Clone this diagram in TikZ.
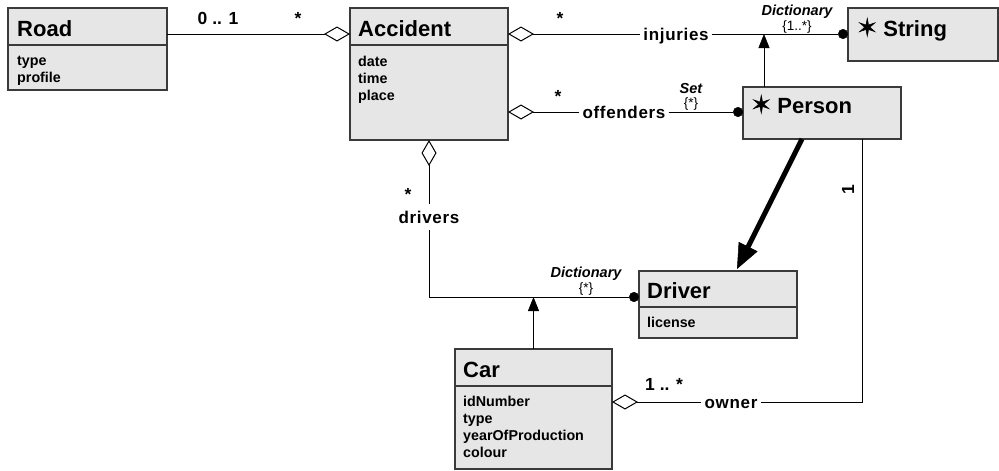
\documentclass[tikz,border=0pt]{standalone}
\usepackage{fontspec}
\setmainfont{Liberation Sans}
\newfontfamily\starfont[FakeBold=2]{DejaVu Sans}
\usetikzlibrary{arrows.meta,calc}
\definecolor{boxfill}{HTML}{E6E6E6}
\definecolor{boxline}{HTML}{3A3A3A}
\newcommand{\classstar}{{\starfont\mdseries\fontsize{24}{26}\selectfont\symbol{"2736}}}

\tikzset{
  aggtip/.tip={Diamond[open,length=26pt,width=15pt,line width=1pt]},
  dottip/.tip={Circle[length=10pt,line width=0.5pt]},
  gentip/.tip={Triangle[length=14pt,width=11pt,line width=0.5pt]},
  navtip/.tip={Triangle[length=25pt,width=21pt,line width=0.5pt]},
}

\begin{document}
\begin{tikzpicture}[x=1pt,y=-1pt,
  classbox/.style={draw=boxline, fill=boxfill, line width=1.2pt, anchor=north west,
    inner sep=0pt, outer sep=0pt},
  divider/.style={draw=boxline, line width=1.2pt},
  classname/.style={font=\bfseries\fontsize{22}{26}\selectfont, anchor=base west, inner sep=0pt},
  attrlist/.style={font=\bfseries\fontsize{14.3}{17}\selectfont, anchor=north west,
    align=left, inner sep=0pt},
  role/.style={font=\bfseries\fontsize{17}{20}\selectfont\addfontfeature{LetterSpace=4},
    text height=12pt, text depth=0pt, inner xsep=3pt, inner ysep=0pt},
  mult/.style={font=\bfseries\fontsize{17.5}{20}\selectfont, inner sep=0pt, anchor=base},
  kind/.style={font=\bfseries\itshape\fontsize{14.5}{17}\selectfont, inner sep=0pt, anchor=base},
  constraint/.style={font=\fontsize{13.5}{15}\selectfont, inner sep=0pt},
  link/.style={draw=black, line width=1pt},
  navlink/.style={draw=black, line width=5pt},
]
\useasboundingbox (0,0) rectangle (999,471);

% ---------- classes ----------
\node[classbox, minimum width=159pt, minimum height=82pt] (road) at (8,8) {};
\draw[divider] ($(road.north west)+(0,37)$) -- ($(road.north east)+(0,37)$);
\node[classname] (roadName) at (17,36) {Road};
\node[attrlist] (roadAttr) at (17,56) {type\\profile};

\node[classbox, minimum width=158pt, minimum height=132pt] (acc) at (350,8) {};
\draw[divider] ($(acc.north west)+(0,37)$) -- ($(acc.north east)+(0,37)$);
\node[classname] (accName) at (358,36) {Accident};
\node[attrlist] (accAttr) at (358,56) {date\\time\\place};

\node[classbox, minimum width=150pt, minimum height=53pt] (str) at (848,8) {};
\node[classname] (strName) at (857,36) {\classstar\ String};

\node[classbox, minimum width=158pt, minimum height=52pt] (person) at (743,87) {};
\node[classname] (personName) at (751,113) {\classstar\ Person};

\node[classbox, minimum width=158pt, minimum height=67pt] (driver) at (639,271) {};
\draw[divider] ($(driver.north west)+(0,36)$) -- ($(driver.north east)+(0,36)$);
\node[classname] (driverName) at (647,298) {Driver};
\node[attrlist] (driverAttr) at (647,317) {license};

\node[classbox, minimum width=157pt, minimum height=120pt] (car) at (455,349) {};
\draw[divider] ($(car.north west)+(0,37)$) -- ($(car.north east)+(0,37)$);
\node[classname] (carName) at (463,377) {Car};
\node[attrlist] (carAttr) at (463,396) {idNumber\\type\\yearOfProduction\\colour};

% ---------- connection points ----------
\coordinate (roadE)   at ($(road.north east)+(0,26)$);
\coordinate (accW)    at ($(acc.north west)+(0,26)$);
\coordinate (accInj)  at ($(acc.north east)+(0,26)$);
\coordinate (accOff)  at ($(acc.north east)+(0,104)$);
\coordinate (accDrv)  at ($(acc.south west)+(79,0)$);
\coordinate (strW)    at ($(str.north west)+(0,26)$);
\coordinate (personW) at ($(person.north west)+(0,25)$);
\coordinate (personT) at ($(person.north west)+(21,0)$);
\coordinate (personB) at ($(person.south west)+(59,0)$);
\coordinate (personO) at ($(person.south west)+(119,0)$);
\coordinate (driverW) at ($(driver.north west)+(0,26)$);
\coordinate (driverT) at ($(driver.north east)+(-60,-2)$);
\coordinate (carE)    at ($(car.north east)+(0,53)$);

% ---------- role names ----------
\node[role] (inj)  at (676,34)  {injuries};
\node[role] (off)  at (624,112) {offenders};
\node[role, inner ysep=7pt] (drv) at (429,217) {drivers};
\node[role] (own)  at (731,402) {owner};

% ---------- associations ----------
\draw[link, -aggtip] (roadE) -- (accW);
\node[mult] (m01) at (218,24) {0 .. 1};
\node[mult] (mRoad) at (298,24) {*};

\draw[link, aggtip-] (accInj) -- (inj.west);
\draw[link, -dottip] (inj.east) -- (strW);
\node[mult] (mInj) at (560,24) {*};
\node[kind] (kInj) at (797,15) {Dictionary};
\node[constraint] (cInj) at (797,27) {\{1..*\}};
\coordinate (injJoin) at (personT |- inj.east);
\draw[link, -gentip] (personT) -- (injJoin);

\draw[link, aggtip-] (accOff) -- (off.west);
\draw[link, -dottip] (off.east) -- (personW);
\node[mult] (mOff) at (558,102) {*};
\node[kind] (kOff) at (691,93) {Set};
\node[constraint] (cOff) at (691,104) {\{*\}};

\draw[link, aggtip-] (accDrv) -- (drv.north);
\draw[link, -dottip] (drv.south) |- (driverW);
\node[mult] (mDrv) at (408,200) {*};
\node[kind] (kDrv) at (586,277) {Dictionary};
\node[constraint] (cDrv) at (586,289) {\{*\}};
\coordinate (drvJoin) at (car.north |- driverW);
\draw[link, -gentip] (car.north) -- (drvJoin);

\draw[navlink, -navtip] (personB) -- (driverT);

\draw[link] (personO) |- (own.east);
\draw[link, -aggtip] (own.west) -- (carE);
\node[mult] (mOwn) at (664,390) {1 .. *};
\node[mult, anchor=center, rotate=90] (mPerson) at (848,190) {1};
\end{tikzpicture}
\end{document}
